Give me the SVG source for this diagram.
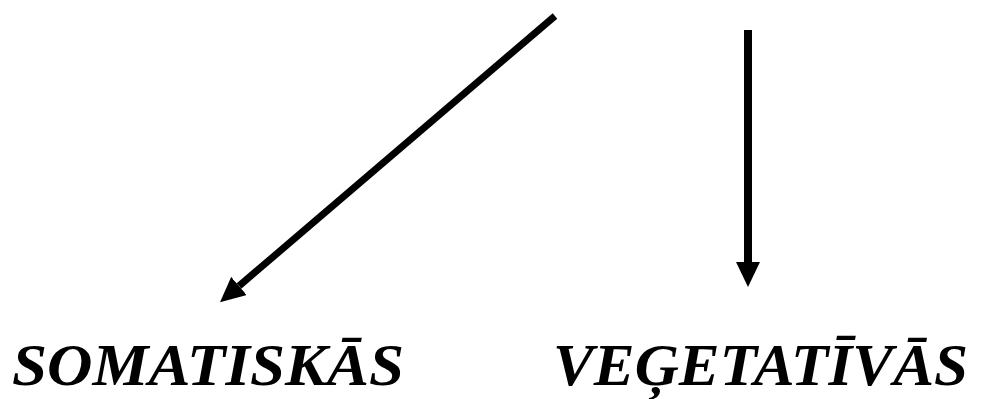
<svg xmlns="http://www.w3.org/2000/svg" width="981" height="399" viewBox="0 0 981 399">
  <style>
    .lbl { font-family: "Liberation Serif", "Times New Roman", serif; font-weight: 700; font-style: italic; font-size: 60px; fill: #000; }
    .conn { stroke: #000; stroke-width: 8; fill: none; marker-end: url(#ah); }
  </style>
  <defs>
    <marker id="ah" viewBox="0 0 25 24" refX="0" refY="12" markerWidth="25" markerHeight="24" markerUnits="userSpaceOnUse" orient="auto">
      <path d="M0,0 L25,12 L0,24 z" fill="#000"/>
    </marker>
  </defs>
  <rect width="981" height="399" fill="#fff"/>
  <g id="connectors">
    <line class="conn" x1="555" y1="16" x2="239" y2="286" style="stroke-width:7"/>
    <line class="conn" x1="748" y1="30" x2="748" y2="262"/>
  </g>
  <g id="somatiskas">
    <text class="lbl" x="12" y="385" textLength="392" lengthAdjust="spacingAndGlyphs">SOMATISKĀS</text>
  </g>
  <g id="vegetativas">
    <text class="lbl" x="553" y="385" textLength="415" lengthAdjust="spacingAndGlyphs">VEĢETATĪVĀS</text>
  </g>
</svg>
